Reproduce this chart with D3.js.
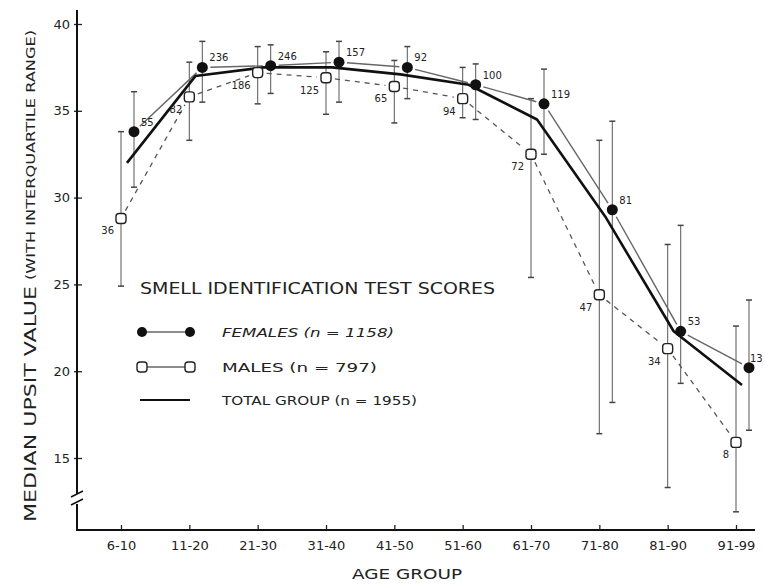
<!DOCTYPE html>
<html>
<head>
<meta charset="utf-8">
<script src="https://cdn.jsdelivr.net/npm/d3@7"></script>
<style>
  body { margin: 0; background: #fff; }
  text { font-family: "DejaVu Sans", sans-serif; fill: #222; }
</style>
</head>
<body>
<div id="container"></div>
<script>
let w = 765;
let h = 585;

// age groups on the x axis
let ages = ["6-10", "11-20", "21-30", "31-40", "41-50", "51-60", "61-70", "71-80", "81-90", "91-99"];
let yTicks = [15, 20, 25, 30, 35, 40];

// females: median and interquartile range, with n per group
let femaleMedian = [33.8, 37.5, 37.6, 37.8, 37.5, 36.5, 35.4, 29.3, 22.3, 20.2];
let femaleQ1 = [30.6, 35.5, 36.0, 35.5, 35.7, 34.5, 32.5, 18.2, 19.3, 16.6];
let femaleQ3 = [36.1, 39.0, 38.8, 39.0, 38.7, 37.7, 37.4, 34.4, 28.4, 24.1];
let femaleN = [55, 236, 246, 157, 92, 100, 119, 81, 53, 13];

// males
let maleMedian = [28.8, 35.8, 37.2, 36.9, 36.4, 35.7, 32.5, 24.4, 21.3, 15.9];
let maleQ1 = [24.9, 33.3, 35.4, 34.8, 34.3, 34.6, 25.4, 16.4, 13.3, 11.9];
let maleQ3 = [33.8, 37.8, 38.7, 38.4, 37.9, 37.5, 35.7, 33.3, 27.3, 22.6];
let maleN = [36, 82, 186, 125, 65, 94, 72, 47, 34, 8];

// total group (median only)
let totalMedian = [32.0, 37.0, 37.5, 37.5, 37.1, 36.5, 34.5, 28.9, 22.3, 19.2];

let legendItems = ["FEMALES (n = 1158)", "MALES (n = 797)", "TOTAL GROUP (n = 1955)"];

let viz = d3.select("#container")
  .append("svg")
    .attr("width", w)
    .attr("height", h)
    .style("background-color", "white");

let xScale = d3.scalePoint().domain(ages).range([121, 736]);
let yScale = d3.scaleLinear().domain([15, 40]).range([458, 24]);

let femOff = 13, maleOff = 0, totOff = 6;

function build(med, q1, q3, n, off) {
  return ages.map(function(a, i) {
    return { x: xScale(a) + off, y: yScale(med[i]), lo: yScale(q1[i]), hi: yScale(q3[i]), n: n ? n[i] : null };
  });
}
let fem = build(femaleMedian, femaleQ1, femaleQ3, femaleN, femOff);
let male = build(maleMedian, maleQ1, maleQ3, maleN, maleOff);
let tot = ages.map(function(a, i) { return { x: xScale(a) + totOff, y: yScale(totalMedian[i]) }; });

// ----- axes
let yAxis = d3.axisLeft(yScale).tickValues(yTicks).tickSizeInner(-5).tickSizeOuter(0).tickPadding(7);
let yg = viz.append("g").attr("transform", "translate(77,0)").call(yAxis);
yg.select(".domain").remove();
yg.selectAll(".tick line").attr("x1", -3).attr("stroke", "#222").attr("stroke-width", 1.3);
yg.selectAll(".tick text").style("font-size", "13px").attr("fill", "#333");

// y axis line with break
viz.append("line").attr("x1", 77).attr("x2", 77).attr("y1", 10).attr("y2", 494)
  .attr("stroke", "#111").attr("stroke-width", 2);
viz.append("path").attr("d", "M77,504 L77,530 L755,530")
  .attr("fill", "none").attr("stroke", "#111").attr("stroke-width", 2);
viz.append("path").attr("d", "M71,497 L83,491 M71,505 L83,499")
  .attr("stroke", "#111").attr("stroke-width", 1.5);

let xAxis = d3.axisBottom(xScale).tickSizeInner(-5).tickSizeOuter(0).tickPadding(11);
let xg = viz.append("g").attr("transform", "translate(0,530)").call(xAxis);
xg.select(".domain").remove();
xg.selectAll(".tick line").attr("stroke", "#222").attr("stroke-width", 1.3);
xg.selectAll(".tick text").style("font-size", "13px").attr("fill", "#333");

viz.append("text").attr("x", 407).attr("y", 579).attr("text-anchor", "middle")
  .style("font-size", "14px").attr("textLength", 110).attr("lengthAdjust", "spacingAndGlyphs")
  .text("AGE GROUP");

// y axis title, in two parts of different size
viz.append("text").attr("transform", "translate(36,522) rotate(-90)")
  .style("font-size", "15px").attr("textLength", 236).attr("lengthAdjust", "spacingAndGlyphs")
  .text("MEDIAN UPSIT VALUE");
viz.append("text").attr("transform", "translate(35,280) rotate(-90)")
  .style("font-size", "13px").attr("textLength", 250).attr("lengthAdjust", "spacingAndGlyphs")
  .text("(WITH INTERQUARTILE RANGE)");

// ----- error bars
function drawBars(data, cls) {
  let g = viz.selectAll("." + cls).data(data).enter().append("g").attr("class", cls);
  g.append("line").attr("x1", d => d.x).attr("x2", d => d.x)
    .attr("y1", d => d.lo).attr("y2", d => d.hi)
    .attr("stroke", "#666").attr("stroke-width", 1.1);
  g.append("line").attr("x1", d => d.x - 3).attr("x2", d => d.x + 3)
    .attr("y1", d => d.lo).attr("y2", d => d.lo).attr("stroke", "#444").attr("stroke-width", 1.5);
  g.append("line").attr("x1", d => d.x - 3).attr("x2", d => d.x + 3)
    .attr("y1", d => d.hi).attr("y2", d => d.hi).attr("stroke", "#444").attr("stroke-width", 1.5);
}
drawBars(male, "mbar");
drawBars(fem, "fbar");

// segments shortened near markers, like the hand drawn original
function gapSegments(data, gap) {
  let segs = [];
  for (let i = 0; i < data.length - 1; i++) {
    let a = data[i], b = data[i + 1];
    let dx = b.x - a.x, dy = b.y - a.y, len = Math.sqrt(dx * dx + dy * dy);
    let ux = dx / len, uy = dy / len;
    segs.push({ x1: a.x + ux * gap, y1: a.y + uy * gap, x2: b.x - ux * gap, y2: b.y - uy * gap });
  }
  return segs;
}

viz.selectAll(".mseg").data(gapSegments(male, 9)).enter().append("line").attr("class", "mseg")
  .attr("x1", d => d.x1).attr("y1", d => d.y1).attr("x2", d => d.x2).attr("y2", d => d.y2)
  .attr("stroke", "#555").attr("stroke-width", 1.3).attr("stroke-dasharray", "5,5");

viz.selectAll(".fseg").data(gapSegments(fem, 8)).enter().append("line").attr("class", "fseg")
  .attr("x1", d => d.x1).attr("y1", d => d.y1).attr("x2", d => d.x2).attr("y2", d => d.y2)
  .attr("stroke", "#666").attr("stroke-width", 1.4);

let line = d3.line().x(d => d.x).y(d => d.y);
viz.append("path").datum(tot).attr("d", line)
  .attr("fill", "none").attr("stroke", "#111").attr("stroke-width", 2.6).attr("stroke-linejoin", "round");

// ----- markers
viz.selectAll(".mdot").data(male).enter().append("rect").attr("class", "mdot")
  .attr("x", d => d.x - 5).attr("y", d => d.y - 5).attr("width", 10).attr("height", 10).attr("rx", 3)
  .attr("fill", "white").attr("stroke", "#222").attr("stroke-width", 1.4);

viz.selectAll(".fdot").data(fem).enter().append("circle").attr("class", "fdot")
  .attr("cx", d => d.x).attr("cy", d => d.y).attr("r", 5.5).attr("fill", "#111");

// n labels
viz.selectAll(".fn").data(fem).enter().append("text").attr("class", "fn")
  .attr("x", d => Math.min(d.x + 7, 750)).attr("y", d => d.y - 6)
  .style("font-size", "10px").text(d => d.n);

viz.selectAll(".mn").data(male).enter().append("text").attr("class", "mn")
  .attr("x", d => d.x - 7).attr("y", d => d.y + 16).attr("text-anchor", "end")
  .style("font-size", "10px").text(d => d.n);

// ----- legend
viz.append("text").attr("x", 140).attr("y", 294)
  .style("font-size", "15px").attr("textLength", 355).attr("lengthAdjust", "spacingAndGlyphs")
  .text("SMELL IDENTIFICATION TEST SCORES");

let legY = [332, 367, 400];
viz.append("line").attr("x1", 142).attr("x2", 190).attr("y1", legY[0]).attr("y2", legY[0])
  .attr("stroke", "#666").attr("stroke-width", 1.4);
viz.selectAll(".lf").data([142, 190]).enter().append("circle")
  .attr("cx", d => d).attr("cy", legY[0]).attr("r", 5).attr("fill", "#111");

viz.append("line").attr("x1", 142).attr("x2", 190).attr("y1", legY[1]).attr("y2", legY[1])
  .attr("stroke", "#666").attr("stroke-width", 1.4);
viz.selectAll(".lm").data([142, 190]).enter().append("rect")
  .attr("x", d => d - 5).attr("y", legY[1] - 5).attr("width", 10).attr("height", 10).attr("rx", 3)
  .attr("fill", "white").attr("stroke", "#222").attr("stroke-width", 1.4);

viz.append("line").attr("x1", 140).attr("x2", 190).attr("y1", legY[2]).attr("y2", legY[2])
  .attr("stroke", "#111").attr("stroke-width", 2.2);

let legLen = [172, 155, 195];
viz.selectAll(".lt").data(legendItems).enter().append("text").attr("class", "lt")
  .attr("x", 222).attr("y", (d, i) => legY[i] + 5)
  .style("font-size", "12px").style("font-style", (d, i) => i === 0 ? "italic" : "normal")
  .attr("textLength", (d, i) => legLen[i]).attr("lengthAdjust", "spacingAndGlyphs")
  .text(d => d);
</script>
</body>
</html>
